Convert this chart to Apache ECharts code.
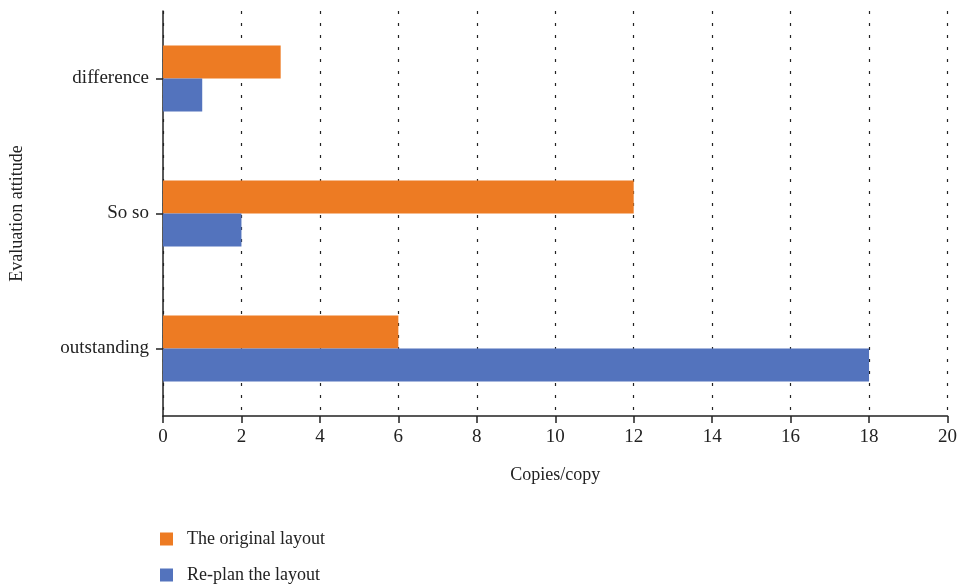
<!DOCTYPE html>
<html>
<head>
<meta charset="utf-8">
<script src="https://cdn.jsdelivr.net/npm/echarts@6/dist/echarts.min.js"></script>
<style>
  html, body { margin: 0; padding: 0; background: #fff; }
  #chart { width: 960px; height: 585px; }
</style>
</head>
<body>
<div id="chart"></div>
<script>
// Evaluation categories, bottom to top on the vertical axis
const categories = ['outstanding', 'So so', 'difference'];
// Number of copies per evaluation
const originalLayout = [6, 12, 3];
const replanLayout = [18, 2, 1];
const seriesNames = ['The original layout', 'Re-plan the layout'];
const xTicks = { min: 0, max: 20, interval: 2 };

const FONT = 'Liberation Serif';
const INK = '#222';

// one legend entry per row, stacked under the chart
function legendRow(name, top) {
  return {
    orient: 'vertical',
    left: 160,
    top: top,
    padding: 0,
    itemWidth: 13,
    itemHeight: 13,
    icon: 'rect',
    data: [name],
    textStyle: { fontFamily: FONT, fontSize: 18, lineHeight: 20, color: INK, padding: [0, 0, 0, 9] }
  };
}

const chart = echarts.init(document.getElementById('chart'), null, { renderer: 'canvas' });
chart.setOption({
  animation: false,
  textStyle: { fontFamily: FONT, color: INK },
  grid: { left: 160, right: 9, top: 11, bottom: 169, containLabel: false },
  legend: [legendRow(seriesNames[0], 529), legendRow(seriesNames[1], 565)],
  xAxis: {
    type: 'value',
    min: xTicks.min,
    max: xTicks.max,
    interval: xTicks.interval,
    name: 'Copies/copy',
    nameLocation: 'middle',
    nameGap: 50,
    nameTextStyle: { fontFamily: FONT, fontSize: 18, color: INK },
    axisLine: { show: true, lineStyle: { color: INK, width: 1.5 } },
    axisTick: { show: true, length: 7, lineStyle: { color: INK, width: 1.5 } },
    axisLabel: { fontFamily: FONT, fontSize: 19, color: INK, margin: 12 },
    splitLine: { show: true, lineStyle: { color: INK, width: 1.2, type: [3, 9] } }
  },
  yAxis: {
    type: 'category',
    data: categories,
    name: 'Evaluation attitude',
    nameLocation: 'middle',
    nameGap: 137,
    nameRotate: 90,
    nameTextStyle: { fontFamily: FONT, fontSize: 18, color: INK },
    axisLine: { show: true, lineStyle: { color: INK, width: 1.5 } },
    axisTick: { show: true, alignWithLabel: true, length: 7, lineStyle: { color: INK, width: 1.5 }, interval: 0 },
    axisLabel: { fontFamily: FONT, fontSize: 19, color: INK, margin: 14 },
    splitLine: { show: false }
  },
  series: [
    {
      name: seriesNames[0],
      type: 'bar',
      data: originalLayout,
      barWidth: 33,
      barGap: '0%',
      itemStyle: { color: '#ED7B23' }
    },
    {
      name: seriesNames[1],
      type: 'bar',
      data: replanLayout,
      barWidth: 33,
      barGap: '0%',
      itemStyle: { color: '#5373BD' }
    }
  ]
});
</script>
</body>
</html>
